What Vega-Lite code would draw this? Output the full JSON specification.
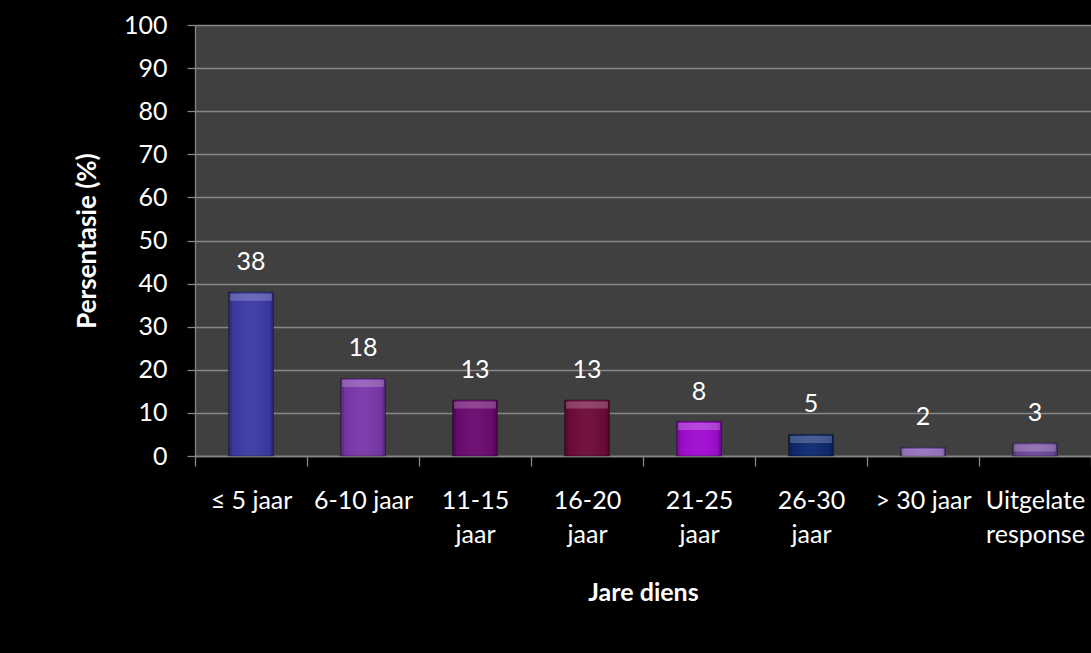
{
  "$schema": "https://vega.github.io/schema/vega-lite/v6.json",
  "width": 896,
  "height": 431,
  "autosize": {"type": "none"},
  "padding": {"left": 195, "top": 25, "right": 0, "bottom": 197},
  "background": "#000000",
  "config": {
    "view": {"fill": "#404040", "stroke": null},
    "font": "Lato",
    "axis": {
      "labelFont": "Lato",
      "labelColor": "#ffffff",
      "labelFontSize": 25,
      "titleFont": "Lato",
      "titleColor": "#ffffff",
      "titleFontSize": 25,
      "titleFontWeight": "bold",
      "domainColor": "#868686",
      "domainWidth": 1.3,
      "tickColor": "#868686",
      "tickWidth": 1.3,
      "gridColor": "#868686",
      "gridWidth": 1.3
    }
  },
  "data": {
    "values": [
      {"jare": "≤ 5 jaar", "persentasie": 38},
      {"jare": "6-10 jaar", "persentasie": 18},
      {"jare": "11-15 jaar", "persentasie": 13},
      {"jare": "16-20 jaar", "persentasie": 13},
      {"jare": "21-25 jaar", "persentasie": 8},
      {"jare": "26-30 jaar", "persentasie": 5},
      {"jare": "> 30 jaar", "persentasie": 2},
      {"jare": "Uitgelate response", "persentasie": 3}
    ]
  },
  "encoding": {
    "x": {
      "field": "jare",
      "type": "nominal",
      "sort": null,
      "scale": {"paddingInner": 0, "paddingOuter": 0},
      "axis": {
        "title": "Jare diens",
        "titleY": 136,
        "titleBaseline": "middle",
        "labelAngle": 0,
        "labelPadding": 22,
        "labelLineHeight": 34,
        "labelBaseline": "top",
        "labelBound": false,
        "labelOverlap": false,
        "labelFlush": false,
        "labelExpr": "indexof(['11-15 jaar','16-20 jaar','21-25 jaar','26-30 jaar','Uitgelate response'], datum.label) >= 0 ? split(datum.label, ' ') : datum.label",
        "tickBand": "extent",
        "tickSize": 10,
        "grid": false
      }
    },
    "y": {
      "field": "persentasie",
      "type": "quantitative",
      "scale": {"domain": [0, 100], "nice": false},
      "axis": {
        "title": "Persentasie (%)",
        "titleX": -108,
        "titleY": 215.5,
        "titleAngle": -90,
        "titleAlign": "center",
        "titleBaseline": "middle",
        "titleFontSize": 26,
        "values": [0, 10, 20, 30, 40, 50, 60, 70, 80, 90, 100],
        "tickSize": 8,
        "labelPadding": 20,
        "grid": true
      }
    }
  },
  "layer": [
    {
      "mark": {"type": "bar", "width": {"band": 0.4}, "stroke": "rgba(0,0,0,0.35)", "strokeWidth": 1},
      "encoding": {
        "color": {
          "field": "jare",
          "type": "nominal",
          "sort": null,
          "legend": null,
          "scale": {
            "domain": ["≤ 5 jaar", "6-10 jaar", "11-15 jaar", "16-20 jaar", "21-25 jaar", "26-30 jaar", "> 30 jaar", "Uitgelate response"],
            "range": ["#3b3ba6", "#7a38aa", "#6c0a70", "#6e0a3a", "#a00cd2", "#0e2a70", "#7a50ac", "#6e4a9c"]
          }
        }
      }
    },
    {
      "mark": {
        "type": "bar",
        "width": {"band": 0.4},
        "color": {
          "gradient": "linear",
          "x1": 0, "y1": 0, "x2": 1, "y2": 0,
          "stops": [
            {"offset": 0, "color": "rgba(0,0,0,0.35)"},
            {"offset": 0.1, "color": "rgba(0,0,0,0.05)"},
            {"offset": 0.5, "color": "rgba(255,255,255,0.04)"},
            {"offset": 0.9, "color": "rgba(0,0,0,0.05)"},
            {"offset": 1, "color": "rgba(0,0,0,0.35)"}
          ]
        }
      }
    },
    {
      "mark": {"type": "tick", "thickness": 7, "size": 42, "yOffset": 5, "color": "#ffffff", "opacity": 0.22}
    },
    {
      "mark": {"type": "text", "dy": -30, "baseline": "middle", "align": "center", "fontSize": 25, "font": "Lato", "color": "#ffffff"},
      "encoding": {"text": {"field": "persentasie", "type": "quantitative"}}
    }
  ]
}
